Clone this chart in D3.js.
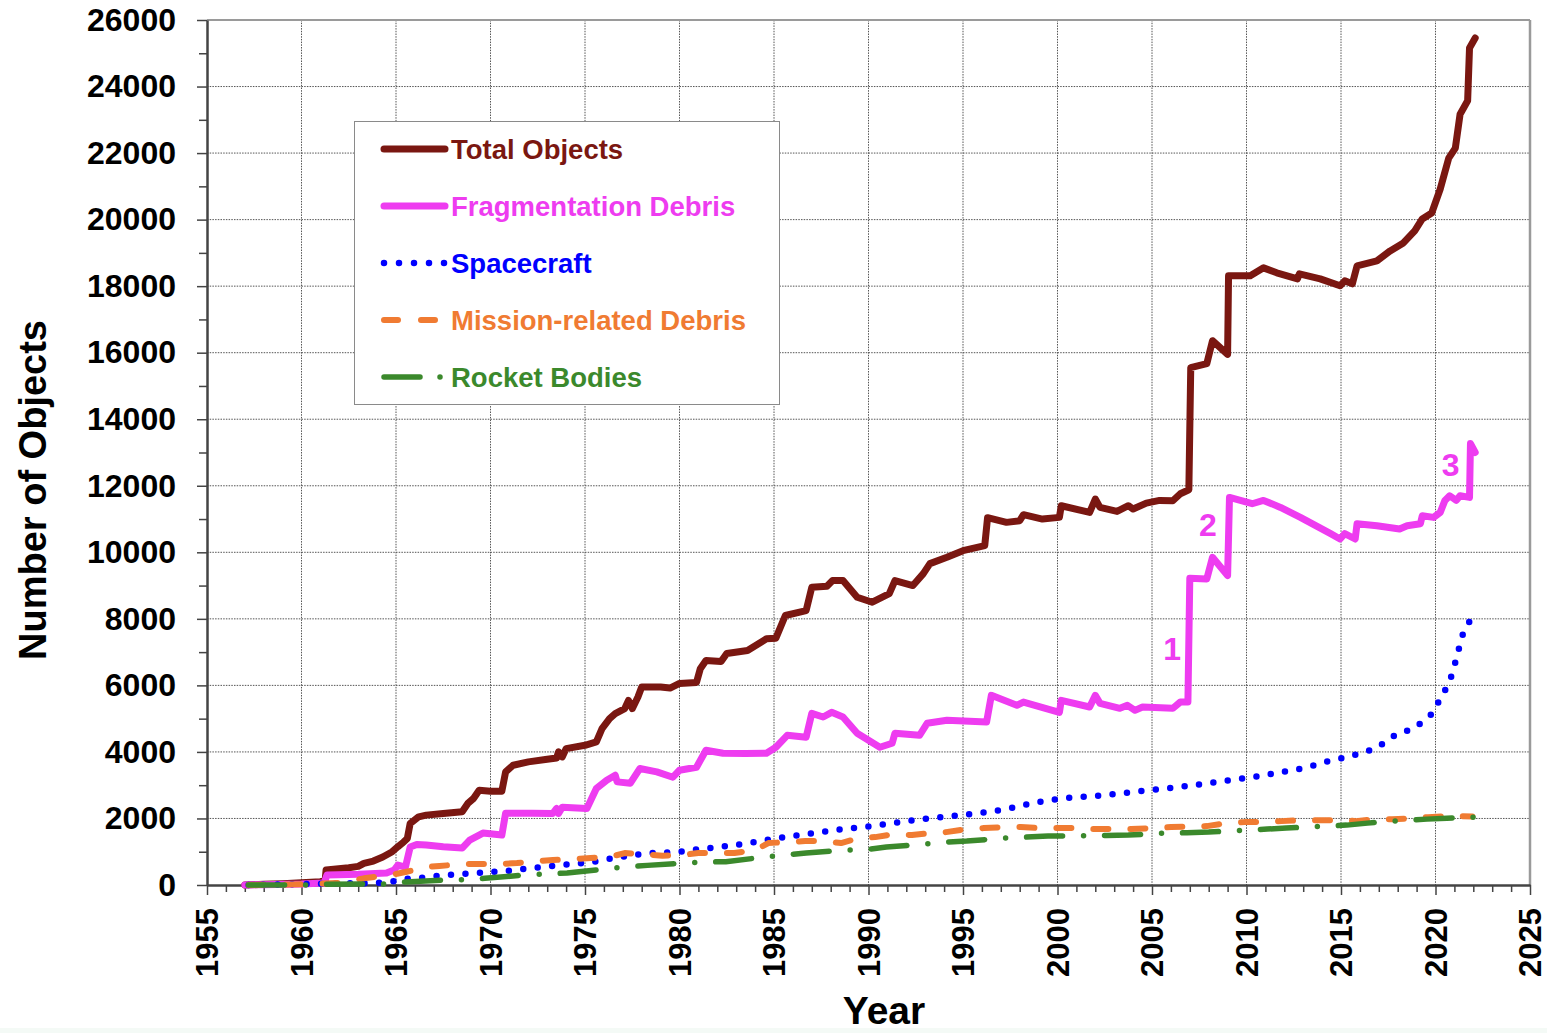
<!DOCTYPE html>
<html>
<head>
<meta charset="utf-8">
<script src="https://cdn.jsdelivr.net/npm/d3@7"></script>
<style>
  html, body { margin: 0; padding: 0; background: #ffffff; }
  svg { display: block; }
  text { font-family: "Liberation Sans", Arial, sans-serif; font-weight: bold; }
</style>
</head>
<body>
<svg id="chart" width="1547" height="1033"></svg>
<script>
// ---------------- DATA ----------------
const seriesNames = ["Total Objects", "Fragmentation Debris", "Spacecraft", "Mission-related Debris", "Rocket Bodies"];

const totalYears = [1957.0,1958.0,1959.0,1960.0,1961.0,1961.25,1961.3,1962.5,1963.0,1963.3,1963.8,1964.3,1964.8,1965.1,1965.4,1965.6,1965.75,1966.2,1966.6,1967.5,1968.5,1968.8,1969.1,1969.4,1970.0,1970.6,1970.8,1971.2,1972.0,1973.0,1973.5,1973.6,1973.8,1974.0,1975.0,1975.6,1975.9,1976.3,1976.6,1977.1,1977.3,1977.5,1977.8,1978.0,1979.0,1979.5,1980.0,1980.9,1981.1,1981.4,1982.2,1982.5,1983.6,1984.6,1985.1,1985.6,1986.7,1987.0,1987.8,1988.1,1988.65,1989.4,1990.2,1991.1,1991.4,1992.35,1992.9,1993.25,1994.15,1995.0,1996.15,1996.3,1997.3,1998.0,1998.2,1999.2,2000.1,2000.2,2001.7,2002.0,2002.25,2003.15,2003.75,2004.0,2004.7,2005.4,2006.1,2006.5,2006.95,2007.05,2007.9,2008.2,2009.0,2009.05,2010.2,2010.9,2011.6,2012.7,2012.8,2013.9,2014.95,2015.2,2015.6,2015.85,2016.9,2017.6,2018.3,2018.9,2019.3,2019.8,2020.25,2020.7,2021.05,2021.3,2021.7,2021.8,2022.1];
const totalValues = [0,20,40,70,100,130,450,520,560,650,720,840,1000,1150,1290,1400,1850,2050,2100,2150,2200,2450,2600,2850,2820,2820,3400,3600,3700,3780,3820,4000,3850,4100,4200,4300,4700,5000,5150,5300,5550,5300,5650,5950,5950,5920,6060,6090,6500,6750,6720,6960,7050,7400,7420,8100,8250,8950,8980,9150,9150,8650,8500,8760,9150,9000,9360,9660,9850,10050,10200,11040,10900,10950,11130,11000,11050,11400,11200,11600,11350,11230,11400,11300,11480,11560,11550,11760,11880,15550,15670,16360,15950,18310,18310,18550,18400,18220,18370,18220,18010,18160,18070,18610,18760,19060,19300,19660,20020,20200,20920,21850,22150,23170,23570,25160,25460];

const fragYears = [1957.0,1958.0,1960.0,1961.2,1961.35,1963.0,1964.5,1964.9,1965.1,1965.5,1965.75,1966.1,1966.6,1967.5,1968.5,1968.9,1969.6,1970.6,1970.8,1972.2,1973.3,1973.5,1973.6,1973.8,1975.1,1975.6,1976.15,1976.6,1976.7,1977.4,1977.9,1978.8,1979.65,1980.0,1980.9,1981.4,1982.3,1983.5,1984.6,1985.1,1985.7,1986.7,1987.0,1987.6,1988.05,1988.65,1989.4,1990.6,1991.25,1991.4,1992.7,1993.1,1994.15,1996.25,1996.5,1997.85,1998.2,2000.1,2000.2,2001.7,2002.0,2002.25,2003.3,2003.7,2004.1,2004.5,2006.1,2006.5,2006.9,2007.0,2007.9,2008.2,2009.0,2009.1,2010.3,2010.9,2011.8,2012.85,2014.45,2014.95,2015.2,2015.75,2015.85,2016.9,2018.1,2018.5,2019.2,2019.3,2019.9,2020.25,2020.5,2020.75,2021.1,2021.3,2021.8,2021.85,2022.1];
const fragValues = [0,10,30,60,300,320,360,450,600,540,1140,1220,1200,1150,1110,1350,1560,1500,2160,2160,2150,2300,2150,2340,2300,2900,3150,3300,3100,3060,3500,3400,3240,3450,3540,4050,3960,3950,3960,4140,4500,4440,5160,5050,5190,5050,4560,4140,4260,4560,4500,4860,4950,4900,5700,5400,5500,5190,5550,5350,5700,5460,5310,5400,5250,5350,5310,5500,5500,9220,9200,9850,9300,11650,11460,11560,11350,11050,10560,10400,10560,10400,10860,10800,10700,10800,10860,11100,11050,11200,11560,11700,11560,11700,11650,13270,13000];

const scYears = [1957.2,1958.5,1960.0,1961.5,1962.5,1963.9,1964.7,1965.4,1966.2,1967.7,1969.3,1970.8,1972.25,1973.8,1975.35,1976.85,1978.3,1979.9,1980.65,1982.1,1983.7,1985.2,1986.7,1988.2,1989.75,1991.3,1992.8,1994.3,1995.85,1997.3,1998.9,2000.4,2001.9,2003.4,2004.9,2006.4,2007.2,2008.0,2008.7,2009.5,2010.25,2011.0,2011.7,2012.5,2013.25,2013.95,2014.65,2015.4,2016.1,2016.8,2017.4,2018.0,2018.8,2019.35,2019.9,2020.2,2020.6,2020.9,2021.1,2021.3,2021.5,2021.9];
const scValues = [0,10,30,40,50,60,90,180,210,300,360,420,510,600,690,840,960,990,1050,1140,1260,1410,1530,1650,1740,1860,1980,2070,2160,2280,2490,2610,2670,2760,2850,2940,3000,3060,3120,3180,3240,3300,3390,3450,3540,3660,3780,3840,3990,4080,4320,4560,4680,4920,5190,5550,5950,6360,6810,7230,7650,8010];

const mrdYears = [1957.2,1960.0,1962.0,1963.3,1964.7,1965.5,1966.6,1967.3,1968.5,1970.5,1971.4,1972.45,1973.3,1974.4,1975.3,1976.3,1977.1,1978.3,1979.1,1980.1,1981.0,1982.9,1984.0,1984.7,1985.7,1986.65,1987.65,1988.55,1989.5,1990.35,1991.35,1992.3,1993.3,1994.1,1995.2,1996.1,1997.2,1998.05,1999.2,2001.1,2002.0,2003.9,2005.0,2006.0,2007.9,2009.0,2009.9,2010.95,2011.85,2012.9,2014.95,2015.8,2016.9,2017.7,2018.8,2019.6,2020.75,2021.95];
const mrdValues = [0,20,60,200,300,390,540,570,630,630,660,720,750,780,810,840,960,920,880,900,960,960,1050,1260,1290,1320,1320,1260,1410,1440,1530,1500,1560,1590,1680,1710,1740,1740,1710,1710,1680,1680,1710,1740,1770,1860,1890,1900,1920,1950,1950,1920,1980,1980,2000,2040,2070,2060];

const rbYears = [1957.2,1960.0,1961.2,1963.3,1964.3,1965.5,1967.5,1968.65,1969.7,1971.8,1972.9,1974.05,1976.1,1977.1,1978.3,1980.3,1981.35,1982.45,1984.5,1985.6,1986.7,1988.75,1989.8,1990.95,1993.0,1994.1,1995.2,1997.2,1998.3,1999.5,2001.5,2002.6,2003.75,2005.75,2006.85,2008.0,2010.0,2011.1,2012.1,2014.2,2015.3,2016.4,2018.5,2019.55,2020.6,2022.2];
const rbValues = [0,0,20,30,30,90,150,160,200,300,330,360,480,540,590,660,690,700,840,900,960,1050,1060,1140,1230,1290,1320,1410,1440,1470,1480,1490,1500,1560,1570,1590,1650,1680,1710,1770,1800,1860,1950,1980,2010,2040];

const xTickValues = [1955,1960,1965,1970,1975,1980,1985,1990,1995,2000,2005,2010,2015,2020,2025];
const yTickValues = [0,2000,4000,6000,8000,10000,12000,14000,16000,18000,20000,22000,24000,26000];
const annotations = [
  {label: "1", year: 2006.06, value: 6750},
  {label: "2", year: 2007.96, value: 10500},
  {label: "3", year: 2020.8, value: 12300}
];

// ---------------- LAYOUT ----------------
const svg = d3.select("#chart");
const plot = {left: 207, right: 1530, top: 20, bottom: 885};

const x = d3.scaleLinear().domain([1955, 2025]).range([plot.left, plot.right]);
const y = d3.scaleLinear().domain([0, 26000]).range([plot.bottom, plot.top]);

const colors = {
  total: "#7a1711",
  frag: "#ee3cf0",
  sc: "#0000ff",
  mrd: "#f07b32",
  rb: "#3b892c"
};

// faint band at bottom (scan artefact)
svg.append("rect").attr("x", 0).attr("y", 1028).attr("width", 1547).attr("height", 5).attr("fill", "#f4faf6");

// Grid
const grid = svg.append("g");
grid.selectAll("line.h").data(yTickValues.filter(v => v > 0 && v < 26000)).enter().append("line")
  .attr("x1", plot.left).attr("x2", plot.right)
  .attr("y1", d => y(d)).attr("y2", d => y(d))
  .attr("stroke", "#555").attr("stroke-width", 1).attr("stroke-dasharray", "1.5,1.2");
grid.selectAll("line.v").data(xTickValues.filter(v => v > 1955 && v < 2025)).enter().append("line")
  .attr("y1", plot.top).attr("y2", plot.bottom)
  .attr("x1", d => x(d)).attr("x2", d => x(d))
  .attr("stroke", "#555").attr("stroke-width", 1).attr("stroke-dasharray", "1.5,1.2");

// Frame top/right
svg.append("line").attr("x1", plot.left).attr("x2", plot.right).attr("y1", plot.top).attr("y2", plot.top)
  .attr("stroke", "#9a9a9a").attr("stroke-width", 2);
svg.append("line").attr("x1", plot.right).attr("x2", plot.right).attr("y1", plot.top).attr("y2", plot.bottom)
  .attr("stroke", "#9a9a9a").attr("stroke-width", 2.5);

// Minor ticks
const yMinor = d3.range(1000, 26000, 2000);
svg.append("g").attr("transform", `translate(${plot.left},0)`)
  .call(d3.axisLeft(y).tickValues(yMinor).tickSize(8).tickFormat(""))
  .call(g => g.select(".domain").remove())
  .call(g => g.selectAll("line").attr("stroke", "#444").attr("stroke-width", 1.5));
const xMinor = d3.range(1956, 2025).filter(v => v % 5 !== 0);
svg.append("g").attr("transform", `translate(0,${plot.bottom})`)
  .call(d3.axisBottom(x).tickValues(xMinor).tickSize(7).tickFormat(""))
  .call(g => g.select(".domain").remove())
  .call(g => g.selectAll("line").attr("stroke", "#444").attr("stroke-width", 1.5));

// Major axes
const yAxis = svg.append("g").attr("transform", `translate(${plot.left},0)`)
  .call(d3.axisLeft(y).tickValues(yTickValues).tickSize(10).tickSizeOuter(0).tickPadding(21).tickFormat(d3.format("d")));
yAxis.select(".domain").attr("stroke", "#444").attr("stroke-width", 2.5);
yAxis.selectAll("line").attr("stroke", "#444").attr("stroke-width", 1.5);
yAxis.selectAll("text").attr("font-size", 32).attr("font-weight", "bold").attr("fill", "#000")
  .attr("font-family", "'Liberation Sans', Arial, sans-serif");

const xAxis = svg.append("g").attr("transform", `translate(0,${plot.bottom})`)
  .call(d3.axisBottom(x).tickValues(xTickValues).tickSize(10).tickSizeOuter(0).tickFormat(d3.format("d")));
xAxis.select(".domain").attr("stroke", "#444").attr("stroke-width", 2.5);
xAxis.selectAll("line").attr("stroke", "#444").attr("stroke-width", 1.5);
xAxis.selectAll("text")
  .attr("transform", "rotate(-90)")
  .attr("x", -23).attr("y", 0).attr("dy", "0.34em")
  .attr("text-anchor", "end")
  .attr("font-size", 31).attr("font-weight", "bold").attr("fill", "#000")
  .attr("font-family", "'Liberation Sans', Arial, sans-serif");

// Axis titles
svg.append("text").attr("transform", "translate(32,490) rotate(-90)")
  .attr("text-anchor", "middle").attr("dy", "0.36em")
  .attr("font-size", 38).attr("fill", "#000").text("Number of Objects");
svg.append("text").attr("x", 884).attr("y", 1024)
  .attr("text-anchor", "middle").attr("font-size", 39).attr("fill", "#000").text("Year");

// Lines
const line = d3.line().x(d => x(d[0])).y(d => y(d[1]));
const zip = (a, b) => a.map((v, i) => [v, b[i]]);

const series = [
  {data: zip(totalYears, totalValues), color: colors.total, width: 7, dash: null},
  {data: zip(fragYears, fragValues), color: colors.frag, width: 7, dash: null},
  {data: zip(scYears, scValues), color: colors.sc, width: 6.5, dash: "0,14.5"},
  {data: zip(mrdYears, mrdValues), color: colors.mrd, width: 6, dash: "15,22"},
  {data: zip(rbYears, rbValues), color: colors.rb, width: 5.5, dash: "36,21,0,21"}
];
series.forEach(s => {
  svg.append("path").datum(s.data)
    .attr("d", line)
    .attr("fill", "none")
    .attr("stroke", s.color)
    .attr("stroke-width", s.width)
    .attr("stroke-linecap", "round")
    .attr("stroke-linejoin", "round")
    .attr("stroke-dasharray", s.dash);
});

// Annotations
svg.selectAll("text.anno").data(annotations).enter().append("text")
  .attr("class", "anno")
  .attr("x", d => x(d.year)).attr("y", d => y(d.value))
  .attr("text-anchor", "middle")
  .attr("font-family", "Lato, 'Open Sans', sans-serif")
  .attr("font-size", 32).attr("font-weight", "bold")
  .attr("fill", colors.frag)
  .text(d => d.label);

// Legend
const legend = svg.append("g");
legend.append("rect").attr("x", 354.5).attr("y", 121.5).attr("width", 425).attr("height", 283)
  .attr("fill", "#fff").attr("stroke", "#8a8a8a").attr("stroke-width", 1);
const legendRows = [
  {name: seriesNames[0], color: colors.total, width: 7, dash: null},
  {name: seriesNames[1], color: colors.frag, width: 7, dash: null},
  {name: seriesNames[2], color: colors.sc, width: 6.5, dash: "0,15"},
  {name: seriesNames[3], color: colors.mrd, width: 6, dash: "14,23"},
  {name: seriesNames[4], color: colors.rb, width: 5.5, dash: "36,20,0,30"}
];
legendRows.forEach((r, i) => {
  const yy = 149 + i * 57;
  legend.append("line").attr("x1", 384).attr("x2", 445).attr("y1", yy).attr("y2", yy)
    .attr("stroke", r.color).attr("stroke-width", r.width)
    .attr("stroke-linecap", "round").attr("stroke-dasharray", r.dash);
  legend.append("text").attr("x", 451).attr("y", yy + 10)
    .attr("font-size", 27.5).attr("fill", r.color).text(r.name);
});
</script>
</body>
</html>
